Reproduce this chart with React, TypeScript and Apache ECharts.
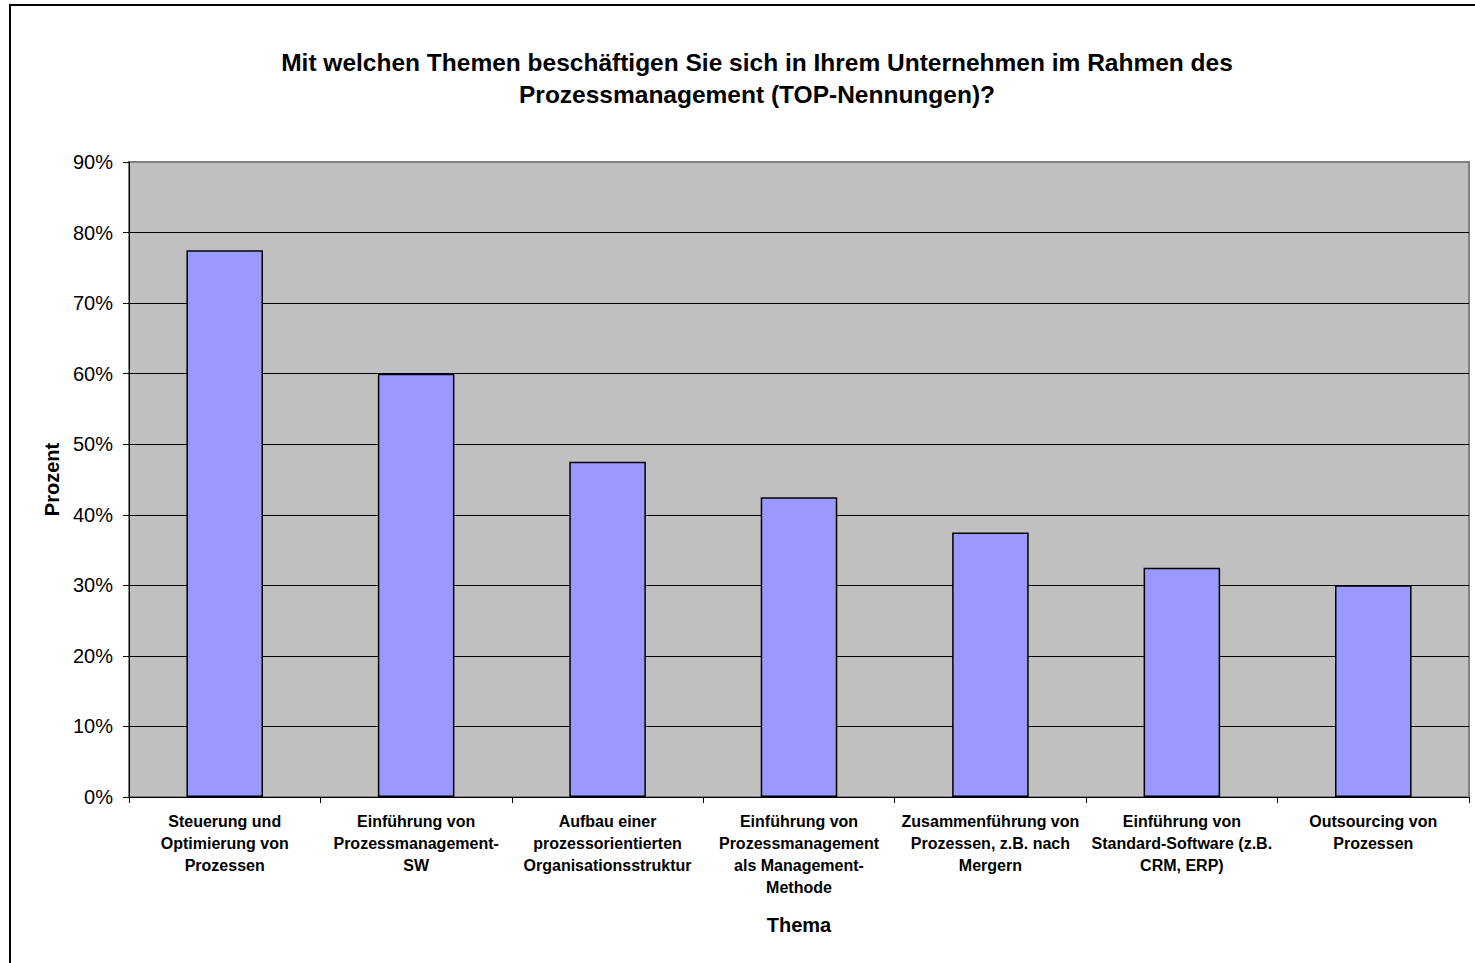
import React, { useEffect, useRef } from "react";
import * as echarts from "echarts";

const titleLines = [
  "Mit welchen Themen beschäftigen Sie sich in Ihrem Unternehmen im Rahmen des",
  "Prozessmanagement (TOP-Nennungen)?",
];
const categories = [
  "Steuerung und\nOptimierung von\nProzessen",
  "Einführung von\nProzessmanagement-\nSW",
  "Aufbau einer\nprozessorientierten\nOrganisationsstruktur",
  "Einführung von\nProzessmanagement\nals Management-\nMethode",
  "Zusammenführung von\nProzessen, z.B. nach\nMergern",
  "Einführung von\nStandard-Software (z.B.\nCRM, ERP)",
  "Outsourcing von\nProzessen",
];
const values = [77.5, 60, 47.5, 42.5, 37.5, 32.5, 30];
const yAxisName = "Prozent";
const xAxisName = "Thema";

const FONT = "'Liberation Sans', Arial, sans-serif";

export default function App() {
  const ref = useRef<HTMLDivElement>(null);
  useEffect(() => {
    if (!ref.current) return;
    const chart = echarts.init(ref.current, null, { renderer: "svg" });
    chart.setOption({
      animation: false,
      backgroundColor: "#ffffff",
      title: {
        text: titleLines.join("\n"),
        left: 752,
        top: 41,
        textAlign: "center",
        textStyle: {
          fontFamily: FONT,
          fontWeight: "bold",
          fontSize: 24.5,
          lineHeight: 32,
          color: "#000",
        },
      },
      graphic: [
        {
          type: "rect",
          shape: { x: 10, y: 5, width: 1500, height: 1000 },
          style: { fill: "none", stroke: "#000", lineWidth: 2 },
          silent: true,
        },
      ],
      grid: {
        left: 129,
        top: 162,
        width: 1340,
        height: 635,
        show: true,
        backgroundColor: "#C0C0C0",
        borderColor: "#808080",
        borderWidth: 2,
      },
      xAxis: {
        type: "category",
        data: categories,
        name: xAxisName,
        nameLocation: "middle",
        nameGap: 118,
        nameTextStyle: {
          fontFamily: FONT,
          fontWeight: "bold",
          fontSize: 20,
          color: "#000",
          verticalAlign: "top",
        },
        axisLine: { show: true, lineStyle: { color: "#000", width: 1 } },
        axisTick: {
          show: true,
          alignWithLabel: false,
          interval: 0,
          length: 6,
          lineStyle: { color: "#000" },
        },
        axisLabel: {
          interval: 0,
          margin: 13,
          fontFamily: FONT,
          fontWeight: "bold",
          fontSize: 16,
          lineHeight: 22,
          color: "#000",
        },
      },
      yAxis: {
        type: "value",
        min: 0,
        max: 90,
        interval: 10,
        name: yAxisName,
        nameLocation: "middle",
        nameGap: 67,
        nameTextStyle: {
          fontFamily: FONT,
          fontWeight: "bold",
          fontSize: 20,
          color: "#000",
        },
        axisLine: { show: true, lineStyle: { color: "#000", width: 1 } },
        axisTick: { show: true, length: 6, lineStyle: { color: "#000" } },
        axisLabel: {
          formatter: "{value}%",
          margin: 16,
          fontFamily: FONT,
          fontSize: 20,
          color: "#000",
        },
        splitLine: {
          show: true,
          lineStyle: {
            color: ["#000", "#000", "#000", "#000", "#000", "#000", "#000", "#000", "#000", "#808080"],
            width: 1,
          },
        },
      },
      series: [
        {
          type: "bar",
          data: values,
          barWidth: "40%",
          itemStyle: {
            color: "#9999FF",
            borderColor: "#000",
            borderWidth: 1.5,
          },
        },
      ],
    });
    return () => chart.dispose();
  }, []);
  return (
    <div
      ref={ref}
      style={{ position: "fixed", left: 0, top: 0, width: 1475, height: 963 }}
    />
  );
}
